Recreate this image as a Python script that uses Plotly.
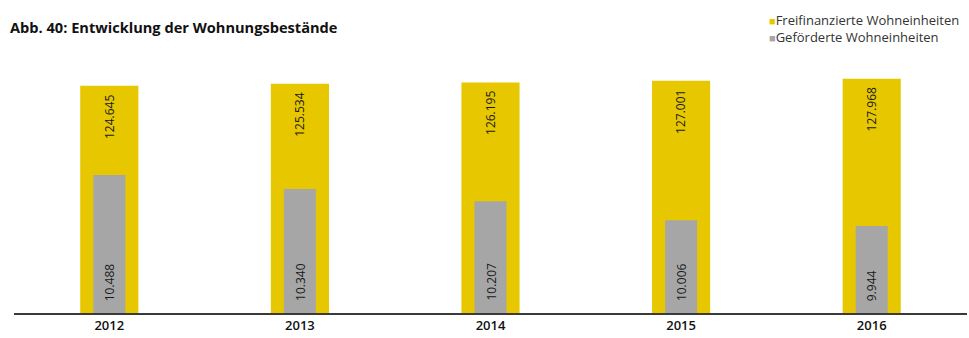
import plotly.graph_objects as go

# Housing stock by year
years = ["2012", "2013", "2014", "2015", "2016"]
freifinanziert = [124645, 125534, 126195, 127001, 127968]
gefoerdert = [10488, 10340, 10207, 10006, 9944]

YELLOW = "#e6c700"
GREY = "#a6a6a6"
FONT = "Open Sans"


def de(n):
    return f"{n:,}".replace(",", ".")


fig = go.Figure()
fig.add_trace(go.Bar(
    x=years, y=freifinanziert, name="Freifinanzierte Wohneinheiten",
    marker=dict(color=YELLOW, line=dict(width=0)), width=0.305, yaxis="y",
    showlegend=False,
))
fig.add_trace(go.Bar(
    x=years, y=gefoerdert, name="Geförderte Wohneinheiten",
    marker=dict(color=GREY, line=dict(width=0)), width=0.168, yaxis="y2",
    showlegend=False,
))

y_range = [16400, 136900]
y2_range = [9016, 11715]

annotations = []
for i, (f, g) in enumerate(zip(freifinanziert, gefoerdert)):
    annotations.append(dict(
        x=i, y=f, xref="x", yref="y", text=de(f), textangle=-90,
        showarrow=False, yanchor="top", yshift=-7,
        font=dict(family=FONT, size=12, color="#1a1a1a"),
    ))
    annotations.append(dict(
        x=i, y=y2_range[0], xref="x", yref="y2", text=de(g), textangle=-90,
        showarrow=False, yanchor="bottom", yshift=10,
        font=dict(family=FONT, size=12, color="#1a1a1a"),
    ))

# Title and legend entries (placed in pixels, converted below)
annotations.append(dict(
    x=8, y=27, xref="paper", yref="paper", text="<b>Abb. 40: Entwicklung der Wohnungsbestände</b>",
    showarrow=False, xanchor="left", yanchor="middle",
    font=dict(family=FONT, size=14.6, color="#111"),
))
for i, (name, col) in enumerate([("Freifinanzierte Wohneinheiten", YELLOW),
                                 ("Geförderte Wohneinheiten", GREY)]):
    annotations.append(dict(
        x=767, y=20 + 17 * i, xref="paper", yref="paper",
        text=f"<span style='color:{col};font-size:11px'>■</span>{name}",
        showarrow=False, xanchor="left", yanchor="middle",
        font=dict(family=FONT, size=13, color="#333"),
    ))

W, H = 969, 338
ml, mr, mt, mb = 14, 2, 60, 25
pw, ph = W - ml - mr, H - mt - mb
for a in annotations:
    if a["xref"] == "paper":
        a["x"] = (a["x"] - ml) / pw
        a["y"] = 1 - (a["y"] - mt) / ph

fig.update_layout(
    width=W, height=H,
    margin=dict(l=ml, r=mr, t=mt, b=mb),
    paper_bgcolor="white", plot_bgcolor="white",
    barmode="overlay",
    separators=",.",
    xaxis=dict(
        type="category",
        showgrid=False, showline=True, linecolor="#3a3a3a", linewidth=1.5,
        ticks="", tickfont=dict(family=FONT, size=13, color="#111", weight=600),
        range=[-0.5, 4.5],
    ),
    yaxis=dict(range=y_range, visible=False, showgrid=False),
    yaxis2=dict(range=y2_range, visible=False, showgrid=False,
                overlaying="y", side="right"),
    annotations=annotations,
    font=dict(family=FONT),
)

fig.write_html("out.html")
